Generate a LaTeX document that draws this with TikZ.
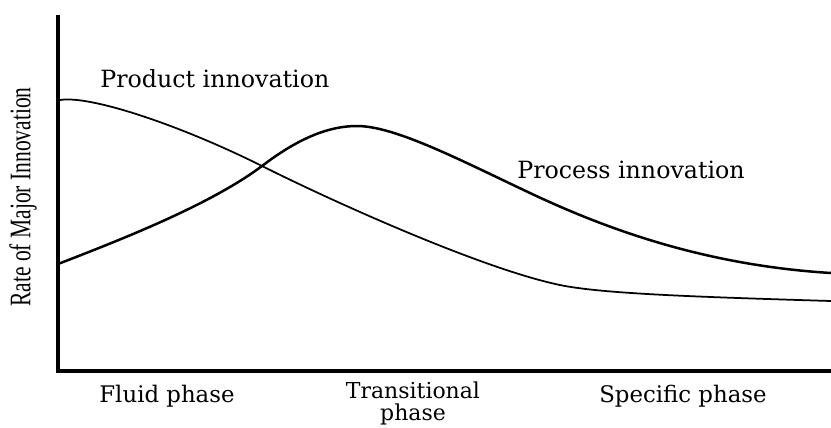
\documentclass[tikz,border=0pt]{standalone}
\usepackage{fontspec}
\newfontfamily\labelfont{DejaVu Serif}
\newfontfamily\axisfont{Liberation Serif}
\usepackage{tikz}
\tikzset{phaselabel/.style={inner sep=0pt, font={\labelfont\fontsize{13}{13}\selectfont}}}

\begin{document}
\begin{tikzpicture}[x=0.02cm, y=-0.02cm]
		%%%%% START %%%%%
		\useasboundingbox (0, 0) rectangle (831, 427);
		
		\draw[line width=0.8mm, color=black] (58, 15) -- (58, 373);
		\draw[line width=0.8mm, color=black] (56, 371) -- (831, 371);
		
		\node[inner sep=0pt, rotate=90, anchor=center] (ylabel) at (23, 197) {\scalebox{0.72}[1]{\axisfont\fontsize{17}{17}\selectfont Rate of Major Innovation}};
		
		% product innovation
		\draw[line width=0.35mm, color=black] (60, 100) .. controls (90, 95) and (180, 125) .. (262, 166)
			.. controls (340, 205) and (490, 272) .. (565, 286)
			.. controls (610, 294) and (700, 297) .. (831, 301);
		
		% process innovation
		\draw[line width=0.5mm, color=black] (58, 264) .. controls (120, 240) and (210, 205) .. (262, 166)
			.. controls (300, 137) and (330, 126) .. (357, 126)
			.. controls (395, 126) and (460, 160) .. (530, 193)
			.. controls (600, 226) and (700, 265) .. (831, 273);
		
		\node[phaselabel, anchor=base west, font={\labelfont\fontsize{13.5}{13.5}\selectfont}] (prodlabel) at (100, 87) {Product innovation};
		\node[phaselabel, anchor=base west, font={\labelfont\fontsize{13.5}{13.5}\selectfont}] (proclabel) at (517, 178) {Process innovation};
		
		\node[phaselabel, anchor=base] (fluid) at (167, 402) {Fluid phase};
		\node[phaselabel, anchor=north, align=center, font={\labelfont\fontsize{12.5}{12.5}\selectfont}] (trans) at (413, 381) {Transitional\\phase};
		\node[phaselabel, anchor=base] (specific) at (683, 402) {Specific phase};
		%%%%% END %%%%%
	\end{tikzpicture}
\end{document}
